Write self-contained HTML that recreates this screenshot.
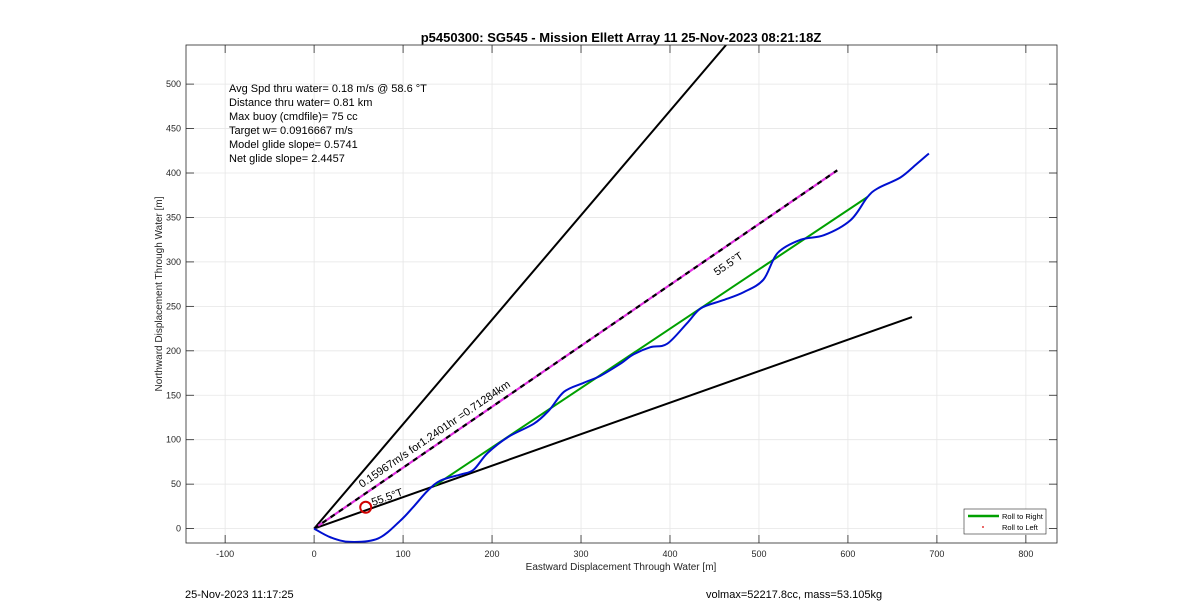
<!DOCTYPE html>
<html><head><meta charset="utf-8"><style>
body{margin:0;background:#fff;font-family:"Liberation Sans",sans-serif}
svg{display:block}
</style></head><body>
<svg id="c" width="1200" height="611" viewBox="0 0 1200 611" font-family="Liberation Sans, sans-serif">
<defs><clipPath id="clip"><rect x="186" y="45" width="871" height="498"/></clipPath></defs>
<rect width="1200" height="611" fill="#fff"/>
<g id="grid"></g>
<g id="ticks"></g>
<g id="marks" clip-path="url(#clip)"></g>
<rect x="186" y="45" width="871" height="498" fill="none" stroke="#262626" stroke-width="0.8"/>
<text x="621" y="42" text-anchor="middle" font-size="13" font-weight="bold" fill="#000">p5450300: SG545 - Mission Ellett Array 11 25-Nov-2023 08:21:18Z</text>
<text x="621" y="570" text-anchor="middle" font-size="10" fill="#262626">Eastward Displacement Through Water [m]</text>
<text transform="translate(162,294) rotate(-90)" text-anchor="middle" font-size="10" fill="#262626">Northward Displacement Through Water [m]</text>
<g font-size="11" fill="#000" style="white-space:pre">
<text x="229" y="92">Avg Spd thru water=  0.18 m/s @  58.6 °T</text>
<text x="229" y="106">Distance thru water=  0.81 km</text>
<text x="229" y="120">Max buoy (cmdfile)= 75 cc</text>
<text x="229" y="134">Target w= 0.0916667 m/s</text>
<text x="229" y="148">Model glide slope= 0.5741</text>
<text x="229" y="162">Net glide slope= 2.4457</text>
</g>
<text x="185" y="598" font-size="11" fill="#000">25-Nov-2023 11:17:25</text>
<text x="706" y="598" font-size="11" fill="#000">volmax=52217.8cc, mass=53.105kg</text>
<g>
<rect x="964" y="509" width="82" height="25" fill="#fff" stroke="#262626" stroke-width="0.6"/>
<line x1="968" y1="516" x2="999" y2="516" stroke="#00a000" stroke-width="2.5"/>
<text x="1002" y="519" font-size="7.5" fill="#000">Roll to Right</text>
<circle cx="983" cy="527" r="0.9" fill="#d00"/>
<text x="1002" y="530" font-size="7.5" fill="#000">Roll to Left</text>
</g>
</svg>
<script>
const xTicks=[-100,0,100,200,300,400,500,600,700,800];
const yTicks=[0,50,100,150,200,250,300,350,400,450,500];
const trackX=[0,19,41,72,97,112,128,142,165,179,195,218,247,264,281,303,322,345,359,378,397,420,435,460,483,505,521,547,573,603,622,634,659,676,691];
const trackY=[0,-10,-15,-11,9,25,43,54,61,66,85,103,118,133,154,164,172,186,196,204,208,232,248,257,266,280,310,325,330,347,373,383,395,409,422];
const greenLine=[[135,48],[622,373]];
const upperLine=[[0,0],[463,544]];
const lowerLine=[[0,0],[672,238]];
const avgLine=[[0,0],[588,403]];
const circlePt=[58,24];
const xmin=-144,xmax=835,ymin=-16.2,ymax=544;
const L=186,R=1057,T=45,B=543;
const sx=v=>L+(v-xmin)/(xmax-xmin)*(R-L);
const sy=v=>B-(v-ymin)/(ymax-ymin)*(B-T);
const NS="http://www.w3.org/2000/svg";
function mk(tag,attrs,parent){const e=document.createElementNS(NS,tag);for(const k in attrs)e.setAttribute(k,attrs[k]);parent.appendChild(e);return e;}
const grid=document.getElementById('grid'),ticks=document.getElementById('ticks'),marks=document.getElementById('marks');
xTicks.forEach(v=>{const x=sx(v);
 const g=mk('line',{x1:x,x2:x,y1:T,y2:B,stroke:'#e6e6e6','stroke-width':0.8},grid);
 
 mk('line',{x1:x,x2:x,y1:B,y2:B-8,stroke:'#262626','stroke-width':0.8},ticks);
 mk('line',{x1:x,x2:x,y1:T,y2:T+8,stroke:'#262626','stroke-width':0.8},ticks);
 const t=mk('text',{x:x,y:B+14,'text-anchor':'middle','font-size':9,fill:'#262626'},ticks);t.textContent=v;
 });
yTicks.forEach(v=>{const y=sy(v);
 const g=mk('line',{x1:L,x2:R,y1:y,y2:y,stroke:'#e6e6e6','stroke-width':0.8},grid);
 
 mk('line',{x1:L,x2:L+8,y1:y,y2:y,stroke:'#262626','stroke-width':0.8},ticks);
 mk('line',{x1:R,x2:R-8,y1:y,y2:y,stroke:'#262626','stroke-width':0.8},ticks);
 const t=mk('text',{x:L-5,y:y+3,'text-anchor':'end','font-size':9,fill:'#262626'},ticks);t.textContent=v;
 });
function seg(p,attrs,name){const e=mk('line',Object.assign({x1:sx(p[0][0]),y1:sy(p[0][1]),x2:sx(p[1][0]),y2:sy(p[1][1])},attrs),marks);
 return e;}
seg(upperLine,{stroke:'#000','stroke-width':2},'upper-bound-line');
seg(lowerLine,{stroke:'#000','stroke-width':2},'lower-bound-line');
seg(avgLine,{stroke:'#e030e0','stroke-width':2.2},'avg-heading-line');
seg(avgLine,{stroke:'#000','stroke-width':2.2,'stroke-dasharray':'5 5'},'avg-heading-dash');
seg(greenLine,{stroke:'#00a000','stroke-width':2},'roll-right-line');
const P=trackX.map((x,i)=>[sx(x),sy(trackY[i])]);
let d='M'+P[0][0].toFixed(1)+','+P[0][1].toFixed(1);
for(let i=0;i<P.length-1;i++){const p0=P[Math.max(0,i-1)],p1=P[i],p2=P[i+1],p3=P[Math.min(P.length-1,i+2)];
 const c1=[p1[0]+(p2[0]-p0[0])/6,p1[1]+(p2[1]-p0[1])/6],c2=[p2[0]-(p3[0]-p1[0])/6,p2[1]-(p3[1]-p1[1])/6];
 d+=` C${c1[0].toFixed(1)},${c1[1].toFixed(1)} ${c2[0].toFixed(1)},${c2[1].toFixed(1)} ${p2[0].toFixed(1)},${p2[1].toFixed(1)}`;}
const tr=mk('path',{d:d,fill:'none',stroke:'#0010d0','stroke-width':2,'stroke-linejoin':'round'},marks);

const c=mk('circle',{cx:sx(circlePt[0]),cy:sy(circlePt[1]),r:5.5,fill:'none',stroke:'#d00000','stroke-width':2},marks);

function lbl(txt,x,y,p,name){const a=Math.atan2(sy(p[1][1])-sy(p[0][1]),sx(p[1][0])-sx(p[0][0]))*180/Math.PI;
 const t=mk('text',{x:x,y:y,'font-size':11,fill:'#000',transform:`rotate(${a.toFixed(1)} ${x} ${y})`},marks);t.textContent=txt;
 }
lbl('0.15967m/s for1.2401hr =0.71284km',362,488,avgLine,'avg-speed-label');
lbl('55.5°T',373,506,lowerLine,'heading-label-low');
lbl('55.5°T',717,276,avgLine,'heading-label-high');
</script>
</body></html>
